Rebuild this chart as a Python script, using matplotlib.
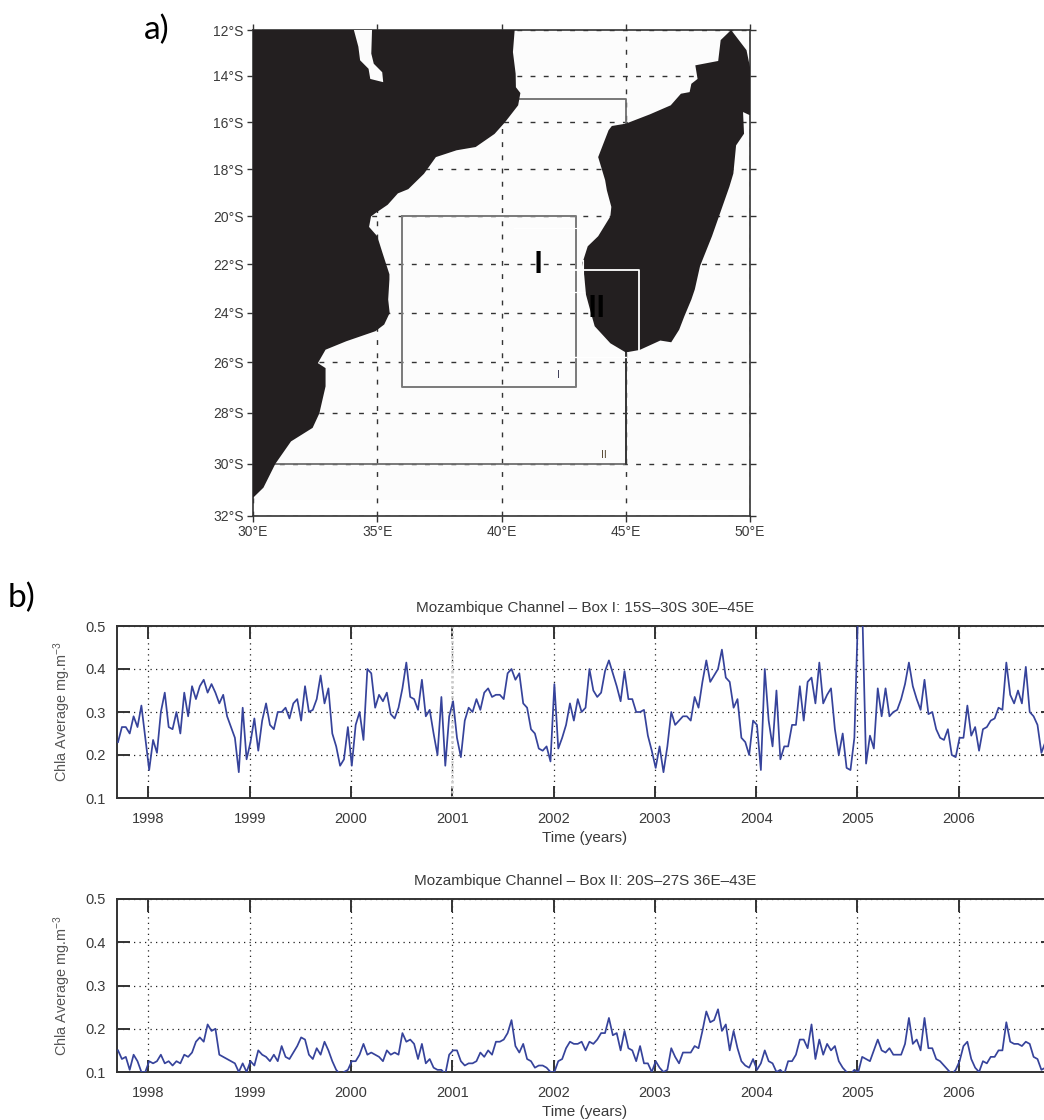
# Mozambique Channel study area map with chlorophyll-a time series for two boxes.
import numpy as np
import matplotlib
matplotlib.use("Agg")
import matplotlib.pyplot as plt

plt.rcParams["font.family"] = ["Liberation Sans", "DejaVu Sans"]
plt.rcParams["mathtext.default"] = "regular"

FIG_W, FIG_H = 1044, 1120
INK = "#333333"
LAND = "#231f20"
LINE = "#36439b"

# --- map data (degrees E, degrees S) ---
lon_ticks = [30, 35, 40, 45, 50]
lat_ticks = [12, 14, 16, 18, 20, 22, 24, 26, 28, 30, 32]

africa_lon = [30, 40.53, 40.46, 40.57, 40.58, 40.76, 40.67, 40.14, 39.72, 38.96, 38.19, 37.36,
              36.88, 36.25, 35.83, 35.42, 34.93, 34.75, 34.67, 35.0, 35.21, 35.49, 35.49, 35.44,
              35.5, 35.28, 34.93, 33.75, 32.92, 32.61, 32.92, 32.92, 32.67, 32.4, 31.53, 30.9,
              30.42, 30]
africa_lat = [12, 12, 12.96, 13.91, 14.49, 14.74, 15.27, 16.0, 16.5, 17.06, 17.2, 17.49,
              18.2, 18.85, 19.03, 19.51, 19.86, 20, 20.44, 20.83, 21.52, 22.41, 22.62, 23.45,
              24, 24.47, 24.74, 25.15, 25.49, 26.03, 26.23, 26.96, 28.03, 28.6, 29.13, 30,
              30.92, 31.31]

lake_lon = [34.06, 34.79, 34.76, 34.86, 35.2, 35.24, 34.72, 34.65, 34.31, 34.24]
lake_lat = [12, 12, 13.03, 13.47, 13.84, 14.27, 14.13, 13.69, 13.32, 12.73]

madagascar_lon = [49.24, 49.86, 50, 50, 49.72, 49.76, 49.44, 49.33, 49.17, 48.47, 47.99, 47.78,
                  47.64, 47.36, 47.15, 46.83, 46.39, 45.56, 45, 44.38, 43.75, 43.6, 43.4, 43.33,
                  43.26, 43.47, 43.89, 44.38, 44.42, 44.24, 44.17, 43.89, 44.31, 44.44, 45, 45.97,
                  46.81, 47.22, 47.57, 47.64, 47.89, 47.8, 48.72, 48.82]
madagascar_lat = [12, 12.88, 13.62, 15.7, 15.56, 16.49, 16.99, 18.19, 18.75, 20.83, 22.07, 23.03,
                  23.45, 24.13, 24.68, 25.19, 25.12, 25.5, 25.6, 25.23, 24.54, 24, 23.25, 22.48,
                  21.93, 21.25, 20.83, 20, 19.6, 18.9, 18.47, 17.49, 16.34, 16.16, 16.06, 15.66,
                  15.27, 14.77, 14.7, 14.34, 14.13, 13.54, 13.35, 12.44]

# --- time series, Chla average (mg m-3), one sample every 1/26 year from 1997.7 ---
years = [1998, 1999, 2000, 2001, 2002, 2003, 2004, 2005, 2006]

box1_1997 = [.23, .265, .265, .25, .29, .265, .315, .24]
box1_1998 = [.165, .235, .205, .30, .345, .265, .26, .30, .25, .345, .29, .36, .33,
             .36, .375, .345, .365, .345, .32, .34, .29, .265, .24, .16, .31, .19]
box1_1999 = [.23, .285, .21, .28, .32, .27, .26, .30, .30, .31, .285, .32, .33,
             .28, .36, .30, .305, .33, .385, .32, .355, .25, .22, .175, .19, .265]
box1_2000 = [.175, .27, .30, .235, .40, .39, .31, .34, .325, .345, .295, .285, .31,
             .355, .415, .335, .33, .305, .375, .29, .305, .25, .20, .335, .175, .29]
box1_2001 = [.325, .24, .195, .28, .31, .30, .33, .305, .345, .355, .335, .34, .34,
             .33, .39, .40, .375, .39, .32, .31, .26, .25, .215, .21, .22, .185]
box1_2002 = [.365, .215, .24, .27, .32, .28, .33, .30, .31, .40, .35, .335, .345,
             .395, .42, .39, .36, .325, .395, .33, .33, .30, .30, .305, .245, .21]
box1_2003 = [.17, .22, .16, .22, .30, .27, .28, .29, .29, .28, .335, .31, .37,
             .42, .37, .385, .40, .445, .38, .37, .31, .33, .24, .23, .20, .28]
box1_2004 = [.27, .165, .40, .28, .22, .35, .19, .22, .22, .27, .27, .36, .28,
             .37, .38, .32, .415, .32, .34, .355, .26, .20, .25, .17, .165, .24]
box1_2005 = [.55, .55, .18, .245, .215, .355, .29, .355, .29, .30, .305, .33, .365,
             .415, .36, .33, .305, .375, .295, .30, .26, .24, .235, .26, .20, .195]
box1_2006 = [.24, .24, .315, .245, .265, .21, .26, .265, .28, .285, .31, .305, .415,
             .34, .32, .35, .32, .405, .30, .29, .27, .205, .23]

box2_1997 = [.15, .13, .135, .105, .14, .125, .10, .10]
box2_1998 = [.125, .12, .125, .14, .12, .125, .115, .125, .12, .14, .135, .145, .17,
             .18, .17, .21, .195, .20, .14, .135, .13, .125, .12, .10, .12, .10]
box2_1999 = [.125, .115, .15, .14, .135, .125, .14, .125, .16, .135, .13, .145, .16,
             .18, .175, .14, .13, .155, .14, .17, .15, .125, .105, .095, .10, .105]
box2_2000 = [.125, .125, .14, .165, .14, .145, .14, .135, .125, .15, .14, .145, .14,
             .19, .17, .175, .165, .13, .165, .12, .13, .11, .105, .105, .095, .14]
box2_2001 = [.15, .15, .125, .115, .12, .12, .125, .145, .135, .15, .14, .17, .17,
             .175, .19, .22, .16, .145, .165, .13, .125, .11, .115, .115, .11, .10]
box2_2002 = [.10, .125, .13, .155, .17, .165, .165, .17, .15, .17, .165, .175, .19,
             .19, .225, .185, .19, .15, .195, .155, .15, .125, .16, .12, .12, .10]
box2_2003 = [.125, .11, .10, .105, .155, .135, .12, .145, .145, .145, .16, .155, .195,
             .24, .215, .22, .245, .195, .21, .15, .195, .155, .125, .115, .11, .13]
box2_2004 = [.105, .12, .15, .125, .12, .10, .105, .095, .125, .125, .14, .175, .175,
             .155, .21, .13, .175, .14, .165, .15, .16, .125, .11, .10, .095, .105]
box2_2005 = [.10, .135, .13, .125, .15, .175, .15, .145, .155, .14, .14, .14, .165,
             .225, .165, .175, .15, .225, .155, .155, .13, .125, .115, .105, .095, .105]
box2_2006 = [.125, .16, .17, .13, .11, .10, .125, .12, .135, .135, .15, .15, .215,
             .17, .165, .165, .16, .17, .165, .135, .13, .105, .11]

box1 = (box1_1997 + box1_1998 + box1_1999 + box1_2000 + box1_2001 + box1_2002
        + box1_2003 + box1_2004 + box1_2005 + box1_2006)
box2 = (box2_1997 + box2_1998 + box2_1999 + box2_2000 + box2_2001 + box2_2002
        + box2_2003 + box2_2004 + box2_2005 + box2_2006)


def px_axes(fig, left, right, top, bottom):
    # Axes from pixel edges, top-left origin like the reference image.
    return fig.add_axes([left / FIG_W, 1 - bottom / FIG_H,
                         (right - left) / FIG_W, (bottom - top) / FIG_H])


def merc(lat):
    return np.log(np.tan(np.pi / 4 + np.radians(lat) / 2))


def merc_inv(y):
    return np.degrees(2 * np.arctan(np.exp(y)) - np.pi / 2)


def neg(values):
    return [-v for v in values]


def draw_map(ax):
    ax.set_facecolor("#fcfcfc")
    ax.set_yscale("function", functions=(merc, merc_inv))
    ax.set_xlim(30, 50)
    ax.set_ylim(-32, -12)

    ax.set_xticks(lon_ticks)
    ax.set_xticklabels([f"{v}°E" for v in lon_ticks])
    ax.set_yticks(neg(lat_ticks))
    ax.set_yticklabels([f"{v}°S" for v in lat_ticks])
    ax.minorticks_off()
    ax.tick_params(direction="out", length=4.2, width=1.0, color=INK, labelcolor="#3a3a3a",
                   labelsize=10, pad=2.5, top=True, right=True)
    for spine in ax.spines.values():
        spine.set_color(INK)
        spine.set_linewidth(1.2)

    # Off-white ocean stops a little short of the bottom axis.
    ax.axhspan(-32, -31.38, color="white", lw=0, zorder=0)

    # Graticule sits under the land.
    ax.grid(True, color="#333333", linewidth=1.0, linestyle=(0, (3.5, 6)), zorder=1)
    ax.set_axisbelow(True)

    # Study boxes drawn under the land too, only the ocean parts show.
    ax.plot([30, 45, 45, 30], neg([15, 15, 30, 30]), color="#6e6e6e", lw=1.3, zorder=2)
    ax.plot([45, 45], neg([25.6, 30]), color="#333333", lw=1.3, zorder=2)
    ax.plot([36, 43, 43, 36, 36], neg([20, 20, 27, 27, 20]), color="#7a7a7a", lw=1.4, zorder=2)

    ax.fill(africa_lon, neg(africa_lat), color=LAND, lw=0, zorder=3)
    ax.fill(lake_lon, neg(lake_lat), color="#fcfcfc", lw=0, zorder=4)
    ax.fill(madagascar_lon, neg(madagascar_lat), color=LAND, lw=0, zorder=3)

    # White overlay boxes added on top of the original figure.
    ax.plot([42.76, 45.53, 45.53], neg([22.25, 22.25, 25.5]), color="white", lw=1.3, zorder=5)
    ax.plot([42.76, 45], neg([25.8, 25.8]), color="white", lw=1.0, zorder=5)
    ax.plot([42.76, 43.3], neg([23.15, 23.15]), color="white", lw=0.9, zorder=5)
    ax.plot([43.28, 43.28], neg([21.8, 22.7]), color="white", lw=0.8, zorder=5)
    ax.plot([40.5, 43.1], neg([20.47, 20.47]), color="white", lw=0.8, zorder=5)

    ax.text(42.3, -26.5, "I", ha="center", va="center", fontsize=7.5, color="#3a3a55", zorder=6)
    ax.text(44.1, -29.65, "II", ha="center", va="center", fontsize=7.5, color="#55452f", zorder=6)
    ax.text(41.47, -22.0, "I", ha="center", va="center", fontsize=22, color="black",
            family=["Lato", "DejaVu Sans"], weight="bold", zorder=6)
    ax.text(43.84, -23.78, "II", ha="center", va="center", fontsize=22, color="black",
            family=["Lato", "DejaVu Sans"], weight="bold", zorder=6)


def draw_series(ax, values, title):
    time = 1997.7 + np.arange(len(values)) / 26
    ax.plot(time, values, color=LINE, lw=1.25, zorder=3)
    ax.set_xlim(1997.69, 2006.93)
    ax.set_ylim(0.1, 0.5)
    ax.set_xticks(years)
    ax.set_yticks([0.1, 0.2, 0.3, 0.4, 0.5])
    ax.tick_params(direction="in", length=9, width=1.4, color=INK, labelcolor="#3a3a3a",
                   labelsize=10.5, top=True, right=True)
    ax.tick_params(axis="x", pad=10)
    ax.tick_params(axis="y", pad=8)
    for spine in ax.spines.values():
        spine.set_color(INK)
        spine.set_linewidth(1.4)
    ax.grid(True, color="#222222", linewidth=0.9, linestyle=(0, (1, 3.4)), zorder=1)
    ax.set_axisbelow(True)
    ax.set_title(title, fontsize=11, color="#3a3a3a", pad=10)
    ax.set_xlabel("Time (years)", fontsize=11, color="#3a3a3a", labelpad=4)
    ax.set_ylabel("Chla Average mg.m$^{-3}$", fontsize=10.4, color="#555555", labelpad=9)


fig = plt.figure(figsize=(FIG_W / 100, FIG_H / 100), dpi=100)

ax_map = px_axes(fig, 253, 750, 30, 516)
draw_map(ax_map)

ax_box1 = px_axes(fig, 117, 1053, 626, 798)
draw_series(ax_box1, box1, "Mozambique Channel – Box I: 15S–30S 30E–45E")
# The 2001 grid line looks washed out in the original.
ax_box1.axvline(2001, color="#cccccc", lw=1.8, linestyle=(0, (1, 1)), zorder=2)

ax_box2 = px_axes(fig, 117, 1053, 899, 1072)
draw_series(ax_box2, box2, "Mozambique Channel – Box II: 20S–27S 36E–43E")

label_font = ["Lato", "DejaVu Sans"]
fig.text(157 / FIG_W, 1 - 30 / FIG_H, "a)", fontsize=24, ha="center", va="center",
         family=label_font, color="black")
fig.text(22 / FIG_W, 1 - 598 / FIG_H, "b)", fontsize=24, ha="center", va="center",
         family=label_font, color="black")

fig.savefig("out.png", dpi=100)
